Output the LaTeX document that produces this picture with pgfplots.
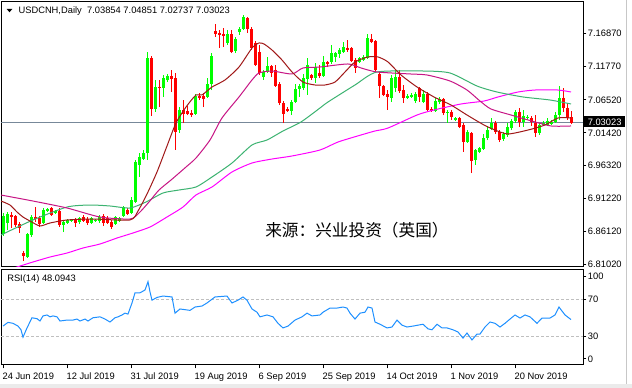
\documentclass[border=0pt]{standalone}
\usepackage{fontspec}
\setmainfont{Liberation Sans}
\newfontfamily\cjk{Noto Sans CJK SC}
\usepackage{pgfplots}
\pgfplotsset{compat=1.18}
\usepackage{pgfplotstable}
\newcommand\tickfont{\fontsize{7}{8}\selectfont}
\definecolor{cup}{HTML}{00FF00}
\definecolor{cdn}{HTML}{FF0000}
\definecolor{maA}{HTML}{A01818}
\definecolor{maB}{HTML}{C71585}
\definecolor{maC}{HTML}{3CB371}
\definecolor{maD}{HTML}{FF00FF}
\definecolor{rsic}{HTML}{1E90FF}
\definecolor{pline}{HTML}{778899}

\pgfplotstableread{
i o h l c
0 6.8572 6.8898 6.8541 6.8852
1 6.8743 6.8914 6.8634 6.8883
6 6.8215 6.8588 6.8200 6.8572
7 6.8557 6.8867 6.8526 6.8836
10 6.8743 6.8976 6.8728 6.8945
11 6.8929 6.8976 6.8914 6.8960
13 6.8898 6.8945 6.8883 6.8929
15 6.8712 6.8790 6.8603 6.8759
16 6.8743 6.8805 6.8728 6.8790
17 6.8774 6.8805 6.8759 6.8790
19 6.8759 6.8836 6.8728 6.8821
22 6.8743 6.8836 6.8728 6.8821
23 6.8774 6.8805 6.8759 6.8790
24 6.8774 6.8867 6.8743 6.8836
28 6.8728 6.8852 6.8712 6.8836
29 6.8774 6.8836 6.8759 6.8821
30 6.8852 6.9007 6.8836 6.8991
32 6.8898 6.9147 6.8883 6.9100
33 6.9069 6.9721 6.9053 6.9690
34 6.9643 6.9829 6.9457 6.9767
35 6.9736 6.9876 6.9721 6.9829
36 6.9829 7.1397 6.9721 7.1304
38 7.0512 7.0963 7.0466 7.0854
40 7.0838 7.1040 7.0699 7.0993
41 7.0963 7.1056 7.0931 7.1024
44 7.0186 7.0543 7.0140 7.0497
48 7.0435 7.0745 7.0419 7.0714
51 7.0699 7.0993 7.0683 7.0900
52 7.0900 7.1381 7.0807 7.1335
56 7.1537 7.1738 7.1506 7.1676
58 7.1413 7.1630 7.1381 7.1599
59 7.1707 7.1785 7.1661 7.1754
60 7.1754 7.1971 7.1738 7.1940
65 7.1009 7.1118 7.0963 7.1087
66 7.1087 7.1320 7.1071 7.1180
72 7.0481 7.0652 7.0419 7.0621
73 7.0621 7.0900 7.0605 7.0823
74 7.0823 7.0900 7.0699 7.0869
75 7.0838 7.1056 7.0807 7.0993
76 7.0978 7.1304 7.0730 7.1195
78 7.0993 7.1226 7.0916 7.1164
80 7.1024 7.1335 7.1009 7.1242
82 7.1242 7.1506 7.1211 7.1381
83 7.1320 7.1397 7.1242 7.1381
84 7.1366 7.1459 7.1304 7.1428
85 7.1397 7.1552 7.1381 7.1475
89 7.1242 7.1320 7.1226 7.1304
90 7.1273 7.1350 7.1257 7.1320
91 7.1304 7.1676 7.1288 7.1614
97 7.0683 7.1040 7.0621 7.0993
98 7.0838 7.1118 7.0776 7.1009
101 7.0683 7.0745 7.0668 7.0714
102 7.0699 7.0761 7.0683 7.0730
103 7.0636 7.0776 7.0605 7.0745
105 7.0621 7.0807 7.0605 7.0745
108 7.0481 7.0683 7.0466 7.0636
109 7.0621 7.0699 7.0590 7.0668
111 7.0450 7.0497 7.0295 7.0466
113 7.0342 7.0388 7.0326 7.0373
116 7.0000 7.0186 6.9985 7.0155
118 6.9721 6.9892 6.9643 6.9876
119 6.9845 6.9923 6.9829 6.9907
120 6.9892 7.0124 6.9876 7.0062
121 7.0062 7.0248 7.0031 7.0186
122 7.0202 7.0373 7.0186 7.0295
125 7.0047 7.0155 7.0016 7.0124
126 7.0109 7.0295 7.0078 7.0233
127 7.0217 7.0357 7.0186 7.0326
128 7.0326 7.0497 7.0295 7.0466
130 7.0311 7.0497 7.0233 7.0404
131 7.0373 7.0419 7.0342 7.0388
134 7.0140 7.0295 7.0109 7.0264
135 7.0264 7.0326 7.0249 7.0295
136 7.0264 7.0373 7.0249 7.0326
137 7.0280 7.0342 7.0264 7.0311
138 7.0311 7.0466 7.0295 7.0419
139 7.0419 7.0869 7.0342 7.0683
}\tabup

\pgfplotstableread{
i o h l c
2 6.8867 6.8914 6.8666 6.8836
3 6.8852 6.8867 6.8681 6.8712
4 6.8728 6.8759 6.8588 6.8666
5 6.8277 6.8308 6.8153 6.8231
8 6.8836 6.8991 6.8759 6.8805
9 6.8821 6.8852 6.8681 6.8728
12 6.8976 6.8991 6.8852 6.8867
14 6.8929 6.8976 6.8681 6.8712
18 6.8805 6.8821 6.8681 6.8743
20 6.8836 6.8867 6.8759 6.8774
21 6.8805 6.8836 6.8712 6.8743
25 6.8852 6.8883 6.8697 6.8743
26 6.8821 6.8852 6.8728 6.8743
27 6.8759 6.8790 6.8650 6.8681
31 6.8945 6.8976 6.8867 6.8883
37 7.1304 7.1335 7.0404 7.0512
39 7.0854 7.0963 7.0543 7.0838
42 7.1024 7.1118 7.0776 7.0978
43 7.0993 7.1071 6.9876 7.0155
45 7.0497 7.0652 7.0295 7.0435
46 7.0481 7.0559 7.0419 7.0435
47 7.0450 7.0497 7.0388 7.0419
49 7.0714 7.0761 7.0652 7.0683
50 7.0714 7.0761 7.0543 7.0668
53 7.1723 7.1832 7.1630 7.1676
54 7.1692 7.1738 7.1459 7.1661
55 7.1676 7.1769 7.1475 7.1645
57 7.1676 7.1738 7.1381 7.1397
61 7.1925 7.1940 7.1692 7.1754
62 7.1754 7.1785 7.1428 7.1459
63 7.1537 7.1568 7.1180 7.1195
64 7.1397 7.1506 7.1040 7.1071
67 7.1180 7.1195 7.1009 7.1071
68 7.1118 7.1195 7.0854 7.0869
69 7.0900 7.0931 7.0574 7.0605
70 7.0605 7.0636 7.0295 7.0435
71 7.0512 7.0543 7.0466 7.0481
77 7.1040 7.1056 7.0963 7.0993
79 7.1071 7.1195 7.0993 7.1024
81 7.1242 7.1257 7.1164 7.1211
86 7.1459 7.1583 7.1397 7.1428
87 7.1459 7.1475 7.1242 7.1257
88 7.1273 7.1304 7.1071 7.1149
92 7.1599 7.1676 7.1537 7.1552
93 7.1568 7.1583 7.1102 7.1118
94 7.1056 7.1087 7.0683 7.0869
95 7.0869 7.0885 7.0714 7.0730
96 7.0745 7.0807 7.0497 7.0699
99 7.1009 7.1118 7.0761 7.0792
100 7.0807 7.0885 7.0605 7.0683
104 7.0838 7.0854 7.0621 7.0699
106 7.0745 7.0776 7.0481 7.0497
107 7.0512 7.0543 7.0466 7.0481
110 7.0668 7.0683 7.0419 7.0450
112 7.0466 7.0497 7.0342 7.0388
114 7.0373 7.0388 7.0217 7.0233
115 7.0264 7.0295 6.9845 7.0000
117 7.0140 7.0155 6.9519 6.9705
123 7.0295 7.0326 7.0124 7.0155
124 7.0155 7.0186 7.0000 7.0031
129 7.0466 7.0528 7.0233 7.0311
132 7.0373 7.0404 7.0249 7.0311
133 7.0295 7.0419 7.0078 7.0140
140 7.0683 7.0838 7.0466 7.0528
141 7.0528 7.0605 7.0342 7.0373
142 7.03854 7.04851 7.02737 7.03023
}\tabdn

\begin{document}
\begin{tikzpicture}
\path[use as bounding box] (0,0) rectangle (474pt,291pt);
\fill[white] (0,0) rectangle (474pt,291pt);
\fill[black!8] (0,0) rectangle (474pt,3pt);
\draw[black!22, line width=0.75pt] (470pt,3pt) -- (470pt,291pt);

\begin{axis}[
  at={(0.75pt,91.125pt)}, anchor=south west, scale only axis,
  width=436.5pt, height=198.375pt,
  xmin=-0.5, xmax=145, ymin=6.8068, ymax=7.2173,
  axis line style={line width=0.75pt},
  xtick=\empty,
  ytick pos=right, tick align=outside, major tick length=2.5pt,
  ytick={6.8102,6.8612,6.9122,6.9632,7.0142,7.0652,7.1177,7.1687},
  yticklabels={6.81020,6.86120,6.91220,6.96320,7.01420,7.06520,7.11770,7.16870},
  yticklabel style={font=\tickfont, inner sep=1pt},
  tick style={line width=0.75pt, black},
  clip=true,
]
\addplot[pline, line width=0.75pt] coordinates {(-0.5,7.03023) (145,7.03023)};
\addplot[cup, line width=0.75pt, quiver={u=0, v=\thisrow{h}-\thisrow{l}}] table[x=i, y=l] {\tabup};
\addplot[cup, line width=2.25pt, quiver={u=0, v=\thisrow{c}-\thisrow{o}}] table[x=i, y=o] {\tabup};
\addplot[cdn, line width=0.75pt, quiver={u=0, v=\thisrow{h}-\thisrow{l}}] table[x=i, y=l] {\tabdn};
\addplot[cdn, line width=2.25pt, quiver={u=0, v=\thisrow{c}-\thisrow{o}}] table[x=i, y=o] {\tabdn};

\addplot[maD, line width=0.75pt, smooth, tension=0.4] coordinates {
(-0.5,6.7983) (3.5,6.8060) (7.5,6.8138) (11.75,6.8215) (16,6.8277) (20,6.8355) (24.25,6.8417) (28.5,6.8510) (32.5,6.8588) (36.75,6.8681) (41,6.8836) (45,6.8991) (48.25,6.9178) (52.25,6.9302) (57.25,6.9535) (62.25,6.9674) (67.25,6.9736) (72.25,6.9783) (79.25,6.9876) (83.75,7.0000) (89.5,7.0109) (93,7.0171) (96.25,7.0217) (103.5,7.0419) (107.75,7.0497) (114.5,7.0590) (120.25,7.0636) (123.75,7.0699) (128.75,7.0776) (133,7.0807) (138.75,7.0807) (142,7.0776)};
\addplot[maC, line width=0.75pt, smooth, tension=0.4] coordinates {
(-0.5,6.8557) (7.5,6.8790) (16,6.8991) (21.75,6.9022) (26.75,6.9007) (31.75,6.8976) (35.75,6.9069) (40,6.9209) (44,6.9255) (48.25,6.9302) (52.25,6.9457) (57.25,6.9674) (62.25,6.9954) (66,7.0031) (70,7.0171) (74.5,7.0311) (79.25,7.0528) (81.25,7.0621) (88,7.0885) (93.5,7.1087) (105,7.1102) (111.75,7.1071) (118.5,7.0869) (123.5,7.0776) (130,7.0699) (136.75,7.0652) (142,7.0590)};
\addplot[maB, line width=0.75pt, smooth, tension=0.4] coordinates {
(-0.5,6.9177) (7.5,6.9084) (16,6.8976) (24.25,6.8836) (31.75,6.8805) (34,6.8898) (36.5,6.9069) (39,6.9255) (42,6.9410) (45.75,6.9612) (48.25,6.9752) (51.75,7.0031) (54.75,7.0373) (59,7.0699) (62.25,7.0963) (64,7.1071) (67.25,7.1102) (72.25,7.1056) (75,7.1149) (79.25,7.1164) (86.25,7.1211) (89.5,7.1149) (93.5,7.1087) (101.75,7.1056) (106,7.1040) (111.75,7.0947) (116,7.0807) (119.25,7.0636) (122,7.0512) (127,7.0419) (131.25,7.0342) (137,7.0249) (142,7.0249)};
\addplot[maA, line width=0.75pt, smooth, tension=0.4] coordinates {
(-0.5,6.9084) (1.75,6.9022) (3.5,6.8914) (5,6.8836) (6.75,6.8774) (9.25,6.8697) (11.75,6.8743) (16,6.8790) (22.5,6.8805) (31.75,6.8790) (33.75,6.8929) (36,6.9193) (38.5,6.9535) (41,6.9938) (43.25,7.0295) (45.75,7.0543) (48.25,7.0730) (49.75,7.0730) (52.25,7.0854) (55.5,7.0963) (59,7.1164) (62.25,7.1459) (64,7.1537) (65.25,7.1521) (67.25,7.1428) (69.75,7.1273) (72.25,7.1087) (75,7.0931) (78,7.0885) (80.5,7.0885) (83,7.0931) (85.5,7.1087) (88,7.1242) (91.25,7.1320) (93.75,7.1320) (96.25,7.1242) (99.5,7.1040) (103.5,7.0854) (107.75,7.0699) (112,7.0574) (116,7.0419) (120.25,7.0264) (123,7.0186) (126.25,7.0124) (131.25,7.0186) (135.5,7.0264) (138.75,7.0373) (142,7.0373)};
\end{axis}

\begin{axis}[
  at={(0.75pt,17.25pt)}, anchor=south west, scale only axis,
  width=436.5pt, height=71.625pt,
  xmin=-0.5, xmax=145, ymin=-1.08, ymax=102.2,
  axis line style={line width=0.75pt},
  ytick pos=right, xtick pos=bottom, tick align=outside, major tick length=2.5pt,
  ytick={5.5,30,70,95}, yticklabels={0,30,70,100},
  xtick={0,16,32,48,64,80,96,112,128},
  xticklabels={24 Jun 2019,12 Jul 2019,31 Jul 2019,19 Aug 2019,6 Sep 2019,25 Sep 2019,14 Oct 2019,1 Nov 2019,20 Nov 2019},
  yticklabel style={font=\tickfont, inner sep=1pt},
  xticklabel style={font=\tickfont, anchor=north west, inner sep=0pt, xshift=-0.5pt, yshift=-3pt},
  tick style={line width=0.75pt, black},
  clip=true,
]
\addplot[black!25, line width=0.75pt, dash pattern=on 2.25pt off 1.5pt] coordinates {(-0.5,30) (145,30)};
\addplot[black!25, line width=0.75pt, dash pattern=on 2.25pt off 1.5pt] coordinates {(-0.5,70) (145,70)};
\addplot[rsic, line width=0.75pt] coordinates {
(0,41) (1.25,45) (2.5,44) (3.75,41) (4.5,37) (5,29) (6,39) (7.25,50) (8.5,49) (9.25,46.5) (10,52) (11,53) (11.75,51) (12.5,52) (13.5,51) (14.25,46.5) (16,47.5) (17.5,47.5) (18.5,48.6) (19.25,46.5) (20.5,48.6) (21.25,46.5) (22.5,50) (24.25,51) (25.5,48.6) (26.75,45.4) (28,50) (28.75,51) (29.75,53) (30.5,55) (31.25,54) (32.25,66) (33,77) (34.25,77) (35.5,80) (36.25,89) (36.75,78) (37.25,69) (38.5,72) (40,73.5) (42.25,72.5) (43,55) (44.25,59.5) (46.75,58) (48,61.6) (49.75,62.7) (51,66) (53,72.5) (56,73.5) (57.25,66) (58.75,69) (60,72.5) (61,69) (62.25,59.5) (63.5,56) (64.25,51) (66,53) (67.5,51) (68.75,44) (70,39) (71.25,41) (73,47.5) (74.75,51) (76,55) (77.25,52) (79.25,53) (80,56) (81.75,60.5) (83.5,60.5) (85,61.6) (86,60.5) (86.75,55) (88,48.6) (89.25,55) (90.5,56) (91.25,61.6) (92.25,60.5) (93,45.4) (94.25,43) (96,39) (97.25,40) (98.5,47.5) (99.75,42) (101,40) (102.5,41) (103.75,42) (105,43) (106.25,38) (107.25,37) (108.5,43) (109.75,39) (111,39) (112.5,37) (113.75,34.6) (115,28) (116,33.5) (117.25,26) (118.5,32.4) (119.25,32.4) (120.5,40) (121.75,45.4) (123,44) (124.25,40) (125.5,44) (126.75,48.6) (128,53) (129.25,49.7) (130.5,53) (131.75,51) (133.5,44) (134.75,49.7) (136.75,49.7) (138,53) (139,61.6) (140.5,53) (142,48.09)};
\end{axis}

\begin{scope}[x=0.75pt,y=0.75pt]
\fill[black] (6.7,379) -- (12.3,379) -- (9.5,375.7) -- cycle;
\node[anchor=base west, inner sep=0pt, font=\tickfont] at (18.3,374) {USDCNH,Daily\hspace{4pt}7.03854 7.04851 7.02737 7.03023};
\node[anchor=base west, inner sep=0pt, font=\tickfont] at (7,106.6) {RSI(14) 48.0943};
\node[anchor=base west, inner sep=0pt, font=\cjk\fontsize{12.5}{14}\selectfont] at (265,151.5) {来源：兴业投资（英国）};
\fill[black] (583.5,260.5) rectangle (625,271.5);
\node[anchor=base west, inner sep=0pt, font=\tickfont, text=white] at (587.5,262.6) {7.03023};
\end{scope}
\end{tikzpicture}
\end{document}
